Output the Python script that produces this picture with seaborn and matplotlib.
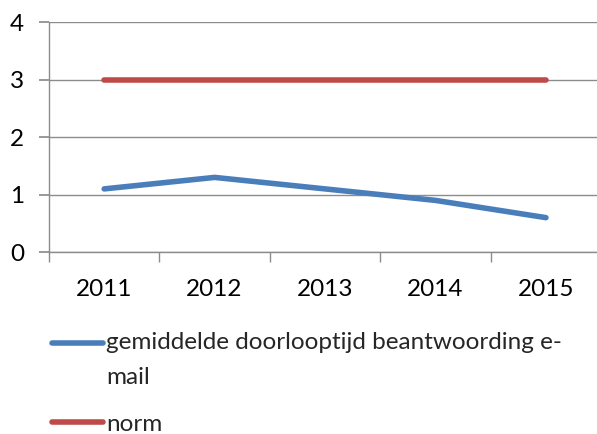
import matplotlib
matplotlib.use("Agg")
import matplotlib.pyplot as plt
import seaborn as sns
import pandas as pd
from matplotlib.ticker import FixedLocator

# data
years = ["2011", "2012", "2013", "2014", "2015"]
doorlooptijd = [1.1, 1.3, 1.1, 0.9, 0.6]
norm = [3, 3, 3, 3, 3]

label_email = "gemiddelde doorlooptijd beantwoording e-\nmail"
label_norm = "norm"

df = pd.DataFrame({
    "jaar": list(range(len(years))) * 2,
    "waarde": doorlooptijd + norm,
    "reeks": [label_email] * len(years) + [label_norm] * len(years),
})

sns.set_theme(style="white")
plt.rcParams["font.family"] = ["Lato", "DejaVu Sans"]

FS = 17.5
blue, red = "#4a7ebb", "#be4b48"

fig = plt.figure(figsize=(5.97, 4.34), dpi=100)
ax = fig.add_axes([0.082, 0.419, 0.925, 0.530])

sns.lineplot(data=df, x="jaar", y="waarde", hue="reeks",
             palette=[blue, red], linewidth=4,
             solid_capstyle="round", ax=ax, legend=False)

ax.set_xlim(-0.5, len(years) - 0.5)
ax.set_ylim(0, 4)
ax.set_yticks([0, 1, 2, 3, 4])
ax.set_xticks(range(len(years)))
ax.set_xticklabels(years)
ax.xaxis.set_minor_locator(FixedLocator([i - 0.5 for i in range(len(years) + 1)]))
ax.set_xlabel("")
ax.set_ylabel("")

ax.yaxis.grid(True, color="#8c8c8c", linewidth=1)
ax.set_axisbelow(True)
for side in ["top", "right"]:
    ax.spines[side].set_visible(False)
for side in ["left", "bottom"]:
    ax.spines[side].set_color("#8c8c8c")
    ax.spines[side].set_linewidth(1)

ax.tick_params(axis="y", which="major", left=True, length=7, color="#8c8c8c",
               labelsize=FS, pad=11, labelcolor="black")
ax.tick_params(axis="x", which="major", bottom=False, labelsize=FS, pad=13,
               labelcolor="black")
ax.tick_params(axis="x", which="minor", bottom=True, length=7, color="#8c8c8c")

handles = [
    plt.Line2D([], [], color=blue, linewidth=4, solid_capstyle="round"),
    plt.Line2D([], [], color=red, linewidth=4, solid_capstyle="round"),
]
leg = fig.legend(handles, [label_email, label_norm], loc="upper left",
                 bbox_to_anchor=(0.07, 0.258), frameon=False, fontsize=FS,
                 handlelength=2.1, handletextpad=0.15, labelspacing=1.05,
                 borderaxespad=0)
for t in leg.get_texts():
    t.set_linespacing(1.85)
# put the first handle level with the first text line, like Excel does
line0 = leg.get_lines()[0]
y0 = line0.get_ydata()
line0.set_ydata([y + 12.5 for y in y0])

fig.savefig("out.png", dpi=100)
